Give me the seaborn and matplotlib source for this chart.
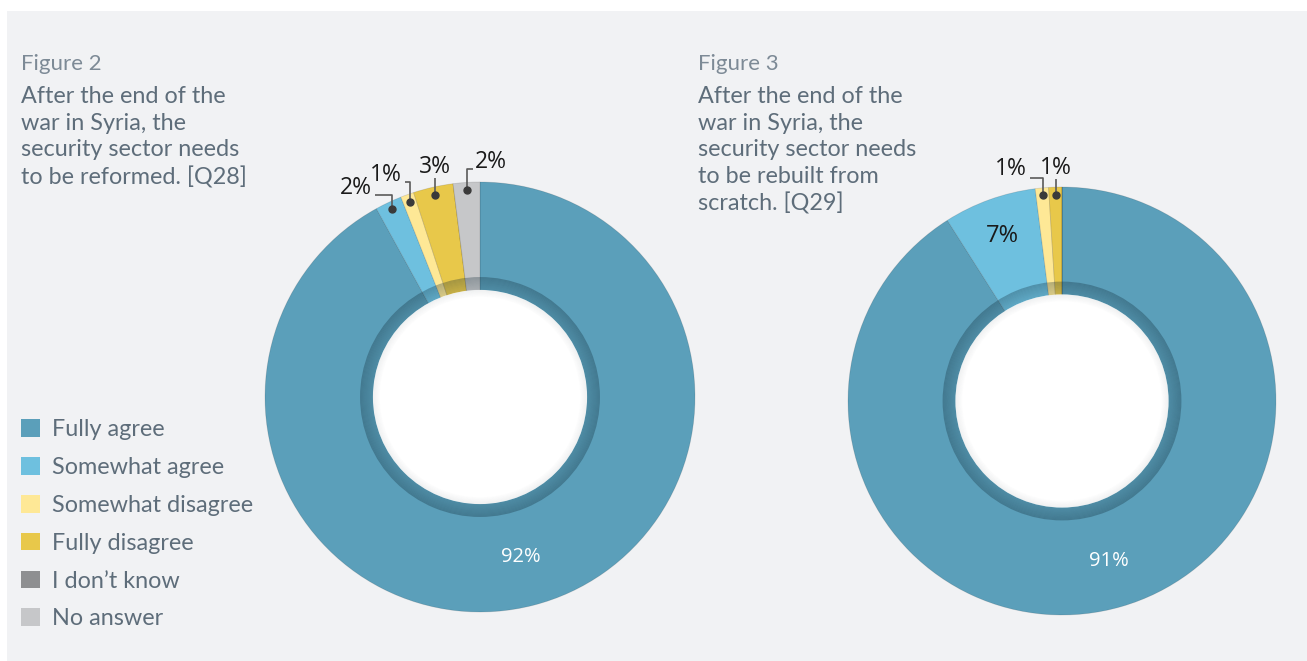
import numpy as np
import matplotlib.pyplot as plt
import seaborn as sns
from matplotlib.patches import Patch, Rectangle, Circle, Wedge

categories = ['Fully agree', 'Somewhat agree', 'Somewhat disagree',
              'Fully disagree', 'I don\u2019t know', 'No answer']
q28_values = [92, 2, 1, 3, 0, 2]
q29_values = [91, 7, 1, 1, 0, 0]
q28_fig = 'Figure 2'
q29_fig = 'Figure 3'
q28_title = 'After the end of the\nwar in Syria, the\nsecurity sector needs\nto be reformed. [Q28]'
q29_title = 'After the end of the\nwar in Syria, the\nsecurity sector needs\nto be rebuilt from\nscratch. [Q29]'

colors = ['#5b9fba', '#6ec0df', '#fee896', '#e8c84a', '#8e8f91', '#c6c7c9']
palette = sns.color_palette(colors)

sns.set_theme(style='white')
plt.rcParams['font.family'] = ['Lato', 'DejaVu Sans']

W, H = 1307, 661
fig = plt.figure(figsize=(W / 100, H / 100), dpi=100)
fig.patch.set_facecolor('white')
fig.patches.append(Rectangle((7 / W, 0), 1, 1 - 11 / H, transform=fig.transFigure,
                             facecolor='#f1f2f4', edgecolor='none', zorder=-10))

TEXT = '#5e6d7a'
LIGHT = '#7d8a96'
PCT_FONT = ['Open Sans', 'DejaVu Sans']


def px(x, y):
    return x / W, 1 - y / H


def donut(cx, cy, r, values, inside, callouts):
    ax = fig.add_axes([(cx - r) / W, (H - cy - r) / H, 2 * r / W, 2 * r / H])
    ax.pie(values, colors=palette, startangle=90, counterclock=False, radius=1,
           wedgeprops=dict(linewidth=0.6, edgecolor=(0, 0, 0, 0.12)))
    ax.set_xlim(-1, 1)
    ax.set_ylim(-1, 1)
    ax.set_aspect('equal')
    ax.axis('off')
    # shaded inner bevel, thin annuli
    r_out, r_in = 0.558, 0.498
    steps = 12
    dr = (r_out - r_in) / steps
    for i in range(steps):
        rr = r_out - dr * i
        a = 0.30 - 0.16 * i / steps
        ax.add_patch(Wedge((0, 0), rr, 0, 360, width=dr * 1.05,
                           facecolor=(0.05, 0.15, 0.2, a), edgecolor='none'))
    ax.add_patch(Circle((0, 0), r_in, facecolor='white', edgecolor='none'))
    for i in range(8):
        rr = r_in - 0.004 * i
        ax.add_patch(Wedge((0, 0), rr, 0, 360, width=0.0042,
                           facecolor=(0.55, 0.58, 0.6, 0.12 * (1 - i / 8)), edgecolor='none'))

    total = sum(values)
    start = 90.0
    mids = []
    for v in values:
        span = 360.0 * v / total
        mids.append(np.deg2rad(start - span / 2))
        start -= span

    for idx, (dist, col, size) in inside.items():
        t = mids[idx]
        ax.text(dist * np.cos(t), dist * np.sin(t), f'{values[idx]}%', color=col,
                fontsize=size, ha='center', va='center', family=PCT_FONT)

    for idx, (rise, dx, ha, lift) in callouts.items():
        t = mids[idx]
        x0, y0 = 0.965 * np.cos(t), 0.965 * np.sin(t)
        y1 = y0 + rise / r
        x1 = x0 + dx / r
        ax.plot([x0, x0, x1], [y0, y1, y1], color='#5a5a5a', lw=1.2,
                solid_capstyle='butt', clip_on=False, zorder=5)
        ax.plot([x0], [y0], 'o', color='#3a3a3a', ms=5, clip_on=False, zorder=6)
        if ha == 'right':
            tx = x1 - 3 / r
        elif ha == 'left':
            tx = x1 + 2 / r
        else:
            tx = x0
        ax.text(tx, y1 + lift / r, f'{values[idx]}%', color='#1a1a1a', fontsize=16.5,
                ha=ha, va='baseline', family=PCT_FONT, clip_on=False)
    return ax


donut(480, 397, 215, q28_values,
      inside={0: (0.77, 'white', 14.5)},
      callouts={1: (14, -17, 'right', 1), 2: (20, -5, 'right', 1),
                3: (17, 0, 'center', 5), 5: (21, 6, 'left', 1)})
donut(1062, 401, 214, q29_values,
      inside={0: (0.78, 'white', 14.5), 1: (0.82, '#1a1a1a', 17)},
      callouts={2: (17, -13, 'right', 3), 3: (16, 0, 'center', 5)})

for x, fig_label, title in [(21, q28_fig, q28_title), (698, q29_fig, q29_title)]:
    fig.text(*px(x, 70), fig_label, color=LIGHT, fontsize=16,
             ha='left', va='baseline')
    fig.text(*px(x, 86), title, color=TEXT, fontsize=16.8, ha='left', va='top',
             linespacing=1.33)

handles = [Patch(facecolor=c, edgecolor='none') for c in colors]
leg = fig.legend(handles, categories, loc='upper left', bbox_to_anchor=px(12, 410),
                 frameon=False, fontsize=16.8, handlelength=0.78, handleheight=0.78,
                 handletextpad=0.55, labelspacing=0.72, borderaxespad=0)
for t in leg.get_texts():
    t.set_color(TEXT)

fig.savefig('out.png', dpi=100, facecolor=fig.get_facecolor())
